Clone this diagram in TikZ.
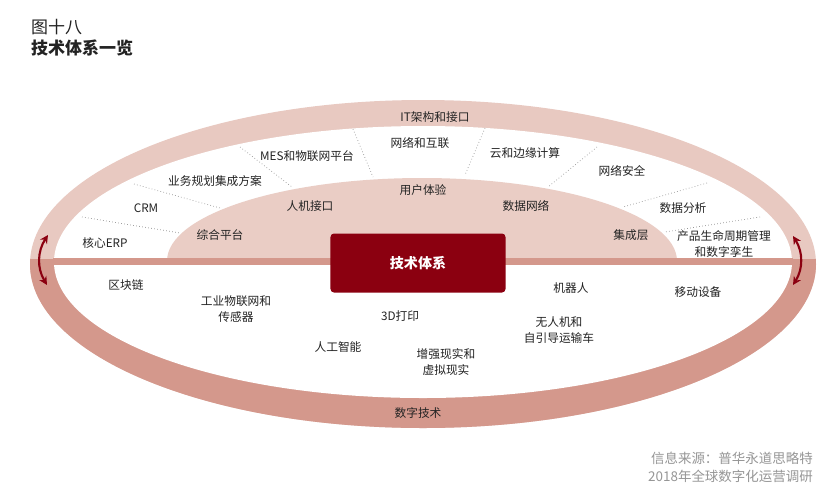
\documentclass[tikz,border=0pt]{standalone}
\usepackage{fontspec}
\usepackage{xcolor}
\usepackage{tikz}
\usetikzlibrary{arrows.meta}
\setmainfont{Noto Sans CJK SC}
\definecolor{jtRed}   {RGB}{139,  0, 16}
\definecolor{jtRingL} {RGB}{232,201,193}
\definecolor{jtRingD} {RGB}{212,152,140}
\definecolor{jtDome}  {RGB}{234,205,197}
\definecolor{jtGrey}  {RGB}{150,150,150}
\definecolor{jtText}  {RGB}{ 35, 35, 35}

\begin{document}
\begin{tikzpicture}[x=0.03cm,y=-0.03cm,
  every node/.style={font=\fontsize{10}{13}\selectfont,text=jtText},
  lbl/.style={align=center,inner sep=0pt},
  sep/.style={draw=jtGrey,dotted,line width=0.6pt},
  core/.style={fill=jtRed,rounded corners=3pt,
               minimum width=5.25cm,minimum height=1.77cm,
               text=white,font=\bfseries\fontsize{12}{14}\selectfont},
  turn/.style={{Stealth[length=7pt,width=7pt]}-{Stealth[length=7pt,width=7pt]},
               draw=jtRed,line width=1.8pt}
]
\useasboundingbox (0,0) rectangle (832,491);
\fill[white] (0,0) rectangle (832,491);

% outer ring, light top and dark bottom
\fill[jtRingL] (423,264) ellipse [x radius=393, y radius=164];
\begin{scope}
  \clip (0,259) rectangle (832,491);
  \fill[jtRingD] (423,264) ellipse [x radius=393, y radius=164];
\end{scope}
\fill[white] (423,262) ellipse [x radius=369, y radius=136];

% inner dome and band
\begin{scope}
  \clip (0,0) rectangle (832,259);
  \fill[jtDome] (422,261) ellipse [x radius=255, y radius=83];
\end{scope}
\begin{scope}
  \clip (423,262) ellipse [x radius=370, y radius=137];
  \fill[jtRingD] (0,258) rectangle (832,265);
\end{scope}

% dotted dividers
\foreach \ax/\ay/\bx/\by in {82/217/180/233, 134/184/220/208, 240/147/292/187,
    353/129/373/177, 485/128/465/175, 597/147/548/187, 707/183/623/207,
    760/217/665/232}
  \draw[sep] (\ax,\ay) -- (\bx,\by);

\node[core] (core) at (418,263) {技术体系};

% turning arrows
\coordinate (lt) at (48,235);
\coordinate (lb) at (47,285);
\coordinate (rt) at (793,236);
\coordinate (rb) at (793,285);
\draw[turn] (lt) to[bend right=32] (lb);
\draw[turn] (rt) to[bend left=32] (rb);

% ring labels
\node[lbl] (itarch) at (435,117) {IT架构和接口};
\node[lbl] (digital) at (418,413) {数字技术};

% upper half
\node[lbl] (net)      at (420,143) {网络和互联};
\node[lbl] (mes)      at (307,156) {MES和物联网平台};
\node[lbl] (cloud)    at (525,153) {云和边缘计算};
\node[lbl] (plan)     at (215,181) {业务规划集成方案};
\node[lbl] (sec)      at (622,171) {网络安全};
\node[lbl] (crm)      at (146,208) {CRM};
\node[lbl] (ux)       at (423,190) {用户体验};
\node[lbl] (hmi)      at (310,206) {人机接口};
\node[lbl] (datanet)  at (526,206) {数据网络};
\node[lbl] (analyse)  at (683,208) {数据分析};
\node[lbl] (platform) at (220,235) {综合平台};
\node[lbl] (intlayer) at (631,235) {集成层};
\node[lbl] (erp)      at (105,243) {核心ERP};
\node[lbl] (plm)      at (724,244) {产品生命周期管理\\和数字孪生};

% lower half
\node[lbl] (chain)  at (126,285) {区块链};
\node[lbl] (iiot)   at (236,309) {工业物联网和\\传感器};
\node[lbl] (robot)  at (571,288) {机器人};
\node[lbl] (mobile) at (698,292) {移动设备};
\node[lbl] (print)  at (400,316) {3D打印};
\node[lbl] (drone)  at (559,330) {无人机和\\自引导运输车};
\node[lbl] (ai)     at (338,347) {人工智能};
\node[lbl] (arvr)   at (446,362) {增强现实和\\虚拟现实};

% title and source
\node[anchor=west,inner sep=0pt,font=\fontsize{14.5}{16}\selectfont] (fig) at (31,27) {图十八};
\node[anchor=west,inner sep=0pt,font=\bfseries\fontsize{14.5}{16}\selectfont] (title) at (31,48) {技术体系一览};
\node[anchor=east,align=right,inner sep=0pt,text=jtGrey,
      font=\fontsize{11.5}{15.3}\selectfont] (src) at (813,467)
  {信息来源：普华永道思略特\\2018年全球数字化运营调研};
\end{tikzpicture}
\end{document}
